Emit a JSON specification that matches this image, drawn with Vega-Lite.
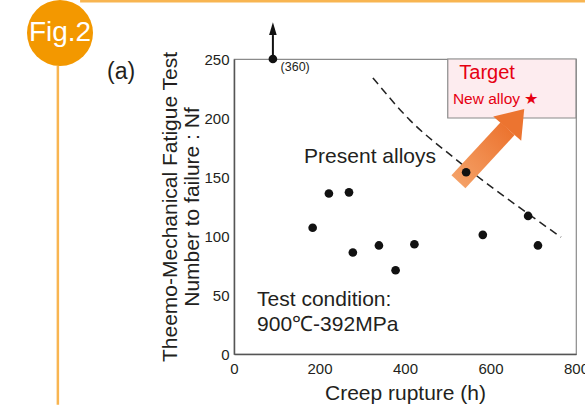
{
  "$schema": "https://vega.github.io/schema/vega-lite/v6.json",
  "width": 342,
  "height": 295,
  "autosize": {"type": "none"},
  "padding": {"left": 234, "top": 59, "right": 9, "bottom": 51},
  "background": "white",
  "config": {
    "font": "Liberation Sans",
    "view": {"stroke": "#8a8a8a", "strokeWidth": 1.2},
    "axis": {
      "labelFont": "Liberation Sans",
      "titleFont": "Liberation Sans",
      "labelColor": "#231f20",
      "titleColor": "#231f20",
      "labelFontSize": 15,
      "titleFontSize": 21,
      "titleFontWeight": "normal",
      "labelFlush": false,
      "labelOverlap": false,
      "grid": false,
      "ticks": false,
      "domainColor": "#555555",
      "domainWidth": 1.5
    }
  },
  "datasets": {
    "points": [
      {"x": 91, "y": 250}, {"x": 184, "y": 107}, {"x": 222, "y": 136},
      {"x": 269, "y": 137}, {"x": 278, "y": 86}, {"x": 339, "y": 92},
      {"x": 378, "y": 71}, {"x": 422, "y": 93}, {"x": 543, "y": 154},
      {"x": 582, "y": 101}, {"x": 688, "y": 117}, {"x": 711, "y": 92}
    ],
    "trend": [
      {"x": 325, "y": 234}, {"x": 412, "y": 198}, {"x": 512, "y": 167},
      {"x": 699, "y": 116}, {"x": 765, "y": 99}
    ],
    "target": [{"x": 500, "x2": 800, "y": 200, "y2": 250}],
    "shaft": [{"x": 525, "y": 146, "x2": 640, "y2": 191}],
    "head": [{"x": 650.5, "y": 195.7}],
    "upshaft": [{"x": 91, "y": 252, "y2": 270.3}],
    "uphead": [{"x": 91, "y": 275.7}],
    "vline": [{"x": -412, "y": 244, "y2": -43}],
    "hline": [{"x": -360, "x2": 821, "y": 299}],
    "badge": [{"x": -407, "y": 272, "label": "Fig.2"}],
    "labelsBlack": [
      {"x": 164, "y": 167, "label": "Present alloys"},
      {"x": 54, "y": 46, "label": "Test condition:"},
      {"x": 54, "y": 25, "label": "900℃-392MPa"}
    ],
    "panel": [{"x": -297, "y": 239, "label": "(a)"}],
    "note": [{"x": 109, "y": 243.5, "label": "(360)"}],
    "targetText": [{"x": 527, "y": 238, "label": "Target"}],
    "newAlloy": [{"x": 512, "y": 216, "label": "New alloy ★"}]
  },
  "layer": [
    {
      "data": {"name": "hline"},
      "mark": {"type": "rule", "color": "#f8b551", "strokeWidth": 2.5},
      "encoding": {
        "x": {"field": "x", "type": "quantitative", "scale": {"domain": [0, 800], "nice": false},
          "axis": {"title": "Creep rupture (h)", "values": [0, 200, 400, 600, 800], "labelPadding": 7, "titlePadding": 6}},
        "x2": {"field": "x2"},
        "y": {"field": "y", "type": "quantitative", "scale": {"domain": [0, 250], "nice": false},
          "axis": {"title": ["Theemo-Mechanical Fatigue Test", "Number to failure : Nf"], "values": [0, 50, 100, 150, 200, 250], "labelPadding": 5, "titlePadding": 1, "titleLineHeight": 22}}
      }
    },
    {
      "data": {"name": "vline"},
      "mark": {"type": "rule", "color": "#f8b551", "strokeWidth": 2.5},
      "encoding": {
        "x": {"field": "x", "type": "quantitative"},
        "y": {"field": "y", "type": "quantitative"},
        "y2": {"field": "y2"}
      }
    },
    {
      "data": {"name": "badge"},
      "mark": {"type": "point", "shape": "circle", "filled": true, "color": "#f39800", "opacity": 1, "size": 4356},
      "encoding": {
        "x": {"field": "x", "type": "quantitative"},
        "y": {"field": "y", "type": "quantitative"}
      }
    },
    {
      "data": {"name": "badge"},
      "mark": {"type": "text", "color": "white", "fontSize": 28, "align": "center", "baseline": "middle"},
      "encoding": {
        "x": {"field": "x", "type": "quantitative"},
        "y": {"field": "y", "type": "quantitative"},
        "text": {"field": "label"}
      }
    },
    {
      "data": {"name": "target"},
      "mark": {"type": "rect", "fill": "#fdecef", "stroke": "#8a8a8a", "strokeWidth": 1.2},
      "encoding": {
        "x": {"field": "x", "type": "quantitative"},
        "x2": {"field": "x2"},
        "y": {"field": "y", "type": "quantitative"},
        "y2": {"field": "y2"}
      }
    },
    {
      "data": {"name": "trend"},
      "mark": {"type": "line", "color": "#222222", "strokeWidth": 1.5, "strokeDash": [8, 5], "interpolate": "monotone"},
      "encoding": {
        "x": {"field": "x", "type": "quantitative"},
        "y": {"field": "y", "type": "quantitative"}
      }
    },
    {
      "data": {"name": "shaft"},
      "mark": {"type": "rule", "strokeWidth": 19, "strokeCap": "butt",
        "color": {"gradient": "linear", "x1": 0, "y1": 1, "x2": 1, "y2": 0,
          "stops": [{"offset": 0, "color": "#f4a066"}, {"offset": 1, "color": "#ec7430"}]}},
      "encoding": {
        "x": {"field": "x", "type": "quantitative"},
        "y": {"field": "y", "type": "quantitative"},
        "x2": {"field": "x2"},
        "y2": {"field": "y2"}
      }
    },
    {
      "data": {"name": "head"},
      "mark": {"type": "point", "shape": "M0,-1L1,0.4L-1,0.4Z", "filled": true, "color": "#ec7430", "opacity": 1, "size": 1369, "angle": 41},
      "encoding": {
        "x": {"field": "x", "type": "quantitative"},
        "y": {"field": "y", "type": "quantitative"}
      }
    },
    {
      "data": {"name": "upshaft"},
      "mark": {"type": "rule", "color": "#111111", "strokeWidth": 2},
      "encoding": {
        "x": {"field": "x", "type": "quantitative"},
        "y": {"field": "y", "type": "quantitative"},
        "y2": {"field": "y2"}
      }
    },
    {
      "data": {"name": "uphead"},
      "mark": {"type": "point", "shape": "M0,-1L0.6,1L-0.6,1Z", "filled": true, "color": "#111111", "opacity": 1, "size": 161},
      "encoding": {
        "x": {"field": "x", "type": "quantitative"},
        "y": {"field": "y", "type": "quantitative"}
      }
    },
    {
      "data": {"name": "points"},
      "mark": {"type": "point", "shape": "circle", "filled": true, "color": "#111111", "opacity": 1, "size": 75},
      "encoding": {
        "x": {"field": "x", "type": "quantitative"},
        "y": {"field": "y", "type": "quantitative"}
      }
    },
    {
      "data": {"name": "labelsBlack"},
      "mark": {"type": "text", "color": "#231f20", "fontSize": 21, "align": "left", "baseline": "middle"},
      "encoding": {
        "x": {"field": "x", "type": "quantitative"},
        "y": {"field": "y", "type": "quantitative"},
        "text": {"field": "label"}
      }
    },
    {
      "data": {"name": "panel"},
      "mark": {"type": "text", "color": "#231f20", "fontSize": 23, "align": "left", "baseline": "middle"},
      "encoding": {
        "x": {"field": "x", "type": "quantitative"},
        "y": {"field": "y", "type": "quantitative"},
        "text": {"field": "label"}
      }
    },
    {
      "data": {"name": "note"},
      "mark": {"type": "text", "color": "#231f20", "fontSize": 12.5, "align": "left", "baseline": "middle"},
      "encoding": {
        "x": {"field": "x", "type": "quantitative"},
        "y": {"field": "y", "type": "quantitative"},
        "text": {"field": "label"}
      }
    },
    {
      "data": {"name": "targetText"},
      "mark": {"type": "text", "color": "#e60012", "fontSize": 20, "align": "left", "baseline": "middle"},
      "encoding": {
        "x": {"field": "x", "type": "quantitative"},
        "y": {"field": "y", "type": "quantitative"},
        "text": {"field": "label"}
      }
    },
    {
      "data": {"name": "newAlloy"},
      "mark": {"type": "text", "color": "#e60012", "fontSize": 15.5, "align": "left", "baseline": "middle"},
      "encoding": {
        "x": {"field": "x", "type": "quantitative"},
        "y": {"field": "y", "type": "quantitative"},
        "text": {"field": "label"}
      }
    }
  ]
}
